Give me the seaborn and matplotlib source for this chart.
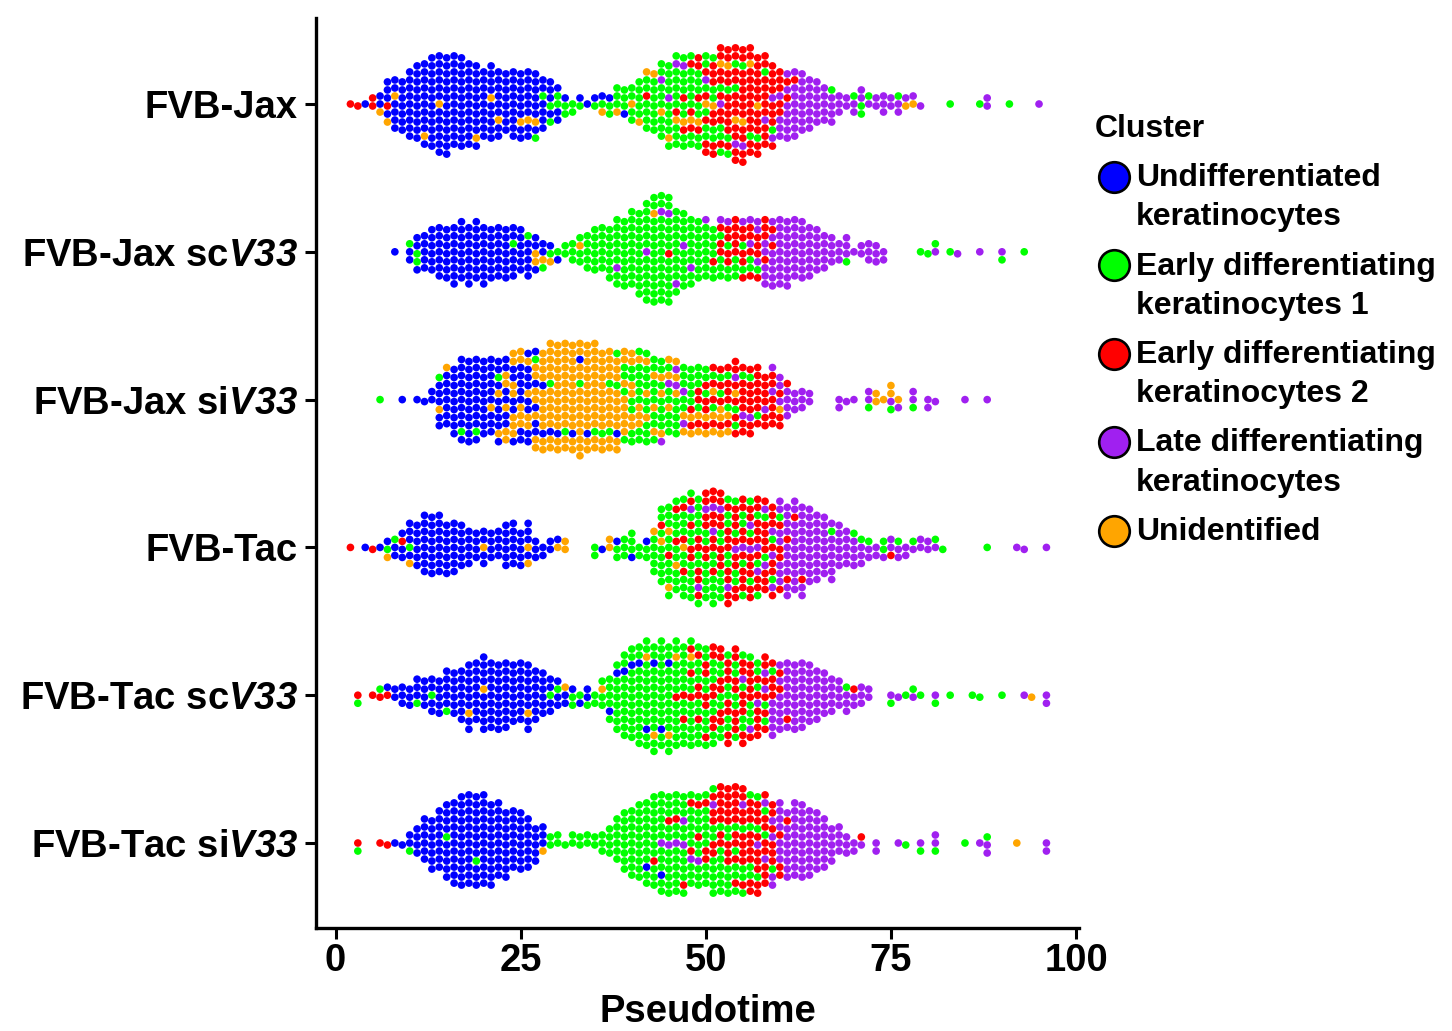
import matplotlib
matplotlib.use("Agg")
import matplotlib.pyplot as plt
from matplotlib.lines import Line2D
import pandas as pd
import seaborn as sns

# Samples (top to bottom) and clusters
SAMPLES = ["FVB-Jax", "FVB-Jax scV33", "FVB-Jax siV33",
           "FVB-Tac", "FVB-Tac scV33", "FVB-Tac siV33"]
SAMPLE_LABELS = ["FVB-Jax", r"FVB-Jax sc$V33$", r"FVB-Jax si$V33$",
                 "FVB-Tac", r"FVB-Tac sc$V33$", r"FVB-Tac si$V33$"]
CLUSTERS = ["Undifferentiated keratinocytes",
            "Early differentiating keratinocytes 1",
            "Early differentiating keratinocytes 2",
            "Late differentiating keratinocytes",
            "Unidentified"]
CLUSTER_LABELS = [("Undifferentiated", "keratinocytes"),
                  ("Early differentiating", "keratinocytes 1"),
                  ("Early differentiating", "keratinocytes 2"),
                  ("Late differentiating", "keratinocytes"),
                  ("Unidentified", None)]
COLORS = ["#0000FF", "#00FF00", "#FF0000", "#A020F0", "#FFA500"]
X_TICKS = [0, 25, 50, 75, 100]

# Cells per (rounded) pseudotime value, read off the swarms:
# (pseudotime, undiff, early 1, early 2, late, unidentified)
FVB_JAX = [
    (2, 0, 0, 1, 0, 0), (3, 0, 0, 1, 0, 0), (4, 1, 0, 0, 0, 0), (5, 0, 0, 2, 0, 0),
    (6, 2, 0, 0, 0, 1), (7, 4, 0, 1, 0, 1), (8, 6, 0, 0, 0, 1), (9, 7, 0, 0, 0, 0),
    (10, 9, 0, 0, 0, 0), (11, 10, 0, 0, 0, 0), (12, 10, 0, 0, 0, 1), (13, 12, 0, 0, 0, 0),
    (14, 12, 0, 0, 0, 1), (15, 13, 0, 0, 0, 0), (16, 12, 0, 0, 0, 0), (17, 12, 0, 0, 0, 0),
    (18, 11, 0, 0, 0, 0), (19, 10, 0, 0, 0, 1), (20, 9, 0, 0, 0, 0), (21, 9, 0, 0, 0, 1),
    (22, 8, 0, 0, 0, 1), (23, 8, 0, 0, 0, 0), (24, 9, 0, 0, 0, 0), (25, 8, 0, 0, 0, 1),
    (26, 8, 0, 0, 0, 1), (27, 7, 1, 0, 0, 1), (28, 6, 1, 0, 0, 0), (29, 4, 2, 0, 0, 0),
    (30, 3, 2, 0, 0, 0), (31, 1, 2, 0, 0, 0), (32, 0, 2, 0, 0, 0), (33, 1, 1, 0, 0, 0),
    (34, 1, 0, 0, 0, 0), (35, 1, 1, 0, 0, 0), (36, 1, 1, 0, 0, 1), (37, 1, 2, 0, 0, 0),
    (38, 0, 3, 0, 0, 1), (39, 1, 3, 0, 0, 0), (40, 0, 4, 0, 0, 1), (41, 0, 5, 0, 0, 1),
    (42, 0, 6, 1, 0, 1), (43, 0, 7, 0, 0, 1), (44, 0, 8, 0, 1, 1), (45, 0, 9, 0, 1, 1),
    (46, 0, 9, 1, 1, 1), (47, 0, 8, 2, 1, 1), (48, 0, 8, 3, 0, 1), (49, 0, 7, 4, 0, 1),
    (50, 0, 6, 5, 1, 1), (51, 0, 5, 7, 0, 1), (52, 0, 4, 8, 1, 1), (53, 0, 3, 10, 0, 1),
    (54, 0, 2, 11, 1, 1), (55, 0, 1, 12, 1, 1), (56, 0, 1, 12, 0, 1), (57, 0, 1, 11, 0, 1),
    (58, 0, 1, 10, 1, 0), (59, 0, 1, 8, 2, 0), (60, 0, 0, 5, 4, 0), (61, 0, 0, 2, 7, 0),
    (62, 0, 0, 1, 8, 0), (63, 0, 0, 0, 8, 0), (64, 0, 0, 0, 7, 0), (65, 0, 0, 0, 6, 0),
    (66, 0, 0, 0, 5, 0), (67, 0, 1, 0, 4, 0), (68, 0, 0, 0, 3, 0), (69, 0, 0, 0, 2, 0),
    (70, 0, 1, 0, 2, 0), (71, 0, 2, 0, 2, 0), (72, 0, 1, 0, 1, 0), (73, 0, 0, 0, 2, 0),
    (74, 0, 0, 0, 3, 0), (75, 0, 0, 0, 2, 0), (76, 0, 1, 0, 2, 0), (77, 0, 0, 0, 1, 1),
    (78, 0, 0, 0, 1, 1), (79, 0, 0, 0, 1, 0), (83, 0, 1, 0, 0, 0), (87, 0, 1, 0, 0, 0),
    (88, 0, 0, 0, 2, 0), (91, 0, 1, 0, 0, 0), (95, 0, 0, 0, 1, 0),
]
FVB_JAX_SC = [
    (8, 1, 0, 0, 0, 0), (10, 2, 1, 0, 0, 0), (11, 3, 2, 0, 0, 0), (12, 5, 0, 0, 0, 0),
    (13, 6, 0, 0, 0, 0), (14, 7, 0, 0, 0, 0), (15, 7, 0, 0, 0, 0), (16, 8, 0, 0, 0, 0),
    (17, 8, 0, 0, 0, 0), (18, 8, 0, 0, 0, 0), (19, 8, 0, 0, 0, 0), (20, 8, 0, 0, 0, 0),
    (21, 7, 0, 0, 0, 0), (22, 7, 0, 0, 0, 0), (23, 7, 0, 0, 0, 0), (24, 6, 1, 0, 0, 0),
    (25, 6, 0, 0, 0, 0), (26, 5, 1, 0, 0, 0), (27, 3, 0, 0, 0, 2), (28, 2, 1, 0, 0, 1),
    (29, 1, 1, 0, 0, 1), (30, 1, 1, 0, 0, 0), (31, 0, 2, 0, 0, 0), (32, 0, 3, 0, 0, 0),
    (33, 0, 3, 0, 0, 1), (34, 0, 5, 0, 0, 0), (35, 0, 6, 0, 0, 0), (36, 0, 6, 0, 0, 0),
    (37, 0, 7, 0, 0, 0), (38, 0, 8, 0, 1, 0), (39, 0, 9, 0, 0, 0), (40, 0, 10, 0, 0, 0),
    (41, 0, 11, 0, 0, 0), (42, 0, 12, 0, 1, 0), (43, 0, 13, 0, 0, 1), (44, 0, 13, 0, 1, 0),
    (45, 0, 12, 1, 1, 0), (46, 0, 10, 0, 1, 0), (47, 0, 9, 0, 1, 0), (48, 0, 8, 0, 1, 0),
    (49, 0, 8, 0, 0, 0), (50, 0, 7, 0, 1, 0), (51, 0, 6, 1, 0, 0), (52, 0, 4, 3, 1, 0),
    (53, 0, 3, 4, 1, 0), (54, 0, 3, 5, 0, 0), (55, 0, 2, 5, 1, 0), (56, 0, 2, 4, 2, 0),
    (57, 0, 1, 4, 3, 0), (58, 0, 0, 4, 5, 0), (59, 0, 0, 2, 7, 0), (60, 0, 0, 0, 9, 0),
    (61, 0, 0, 0, 9, 0), (62, 0, 0, 0, 8, 0), (63, 0, 0, 0, 8, 0), (64, 0, 0, 0, 7, 0),
    (65, 0, 0, 0, 6, 0), (66, 0, 0, 0, 5, 0), (67, 0, 0, 0, 4, 0), (68, 0, 0, 0, 3, 0),
    (69, 0, 1, 0, 3, 0), (70, 0, 0, 0, 1, 0), (71, 0, 0, 0, 2, 0), (72, 0, 0, 0, 3, 0),
    (73, 0, 0, 0, 3, 0), (74, 0, 0, 0, 2, 0), (79, 0, 1, 0, 0, 0), (80, 0, 1, 0, 0, 0),
    (81, 0, 1, 0, 1, 0), (83, 0, 1, 0, 0, 0), (84, 0, 0, 0, 1, 0), (87, 0, 0, 0, 1, 0),
    (90, 0, 1, 0, 1, 0), (93, 0, 1, 0, 0, 0),
]
FVB_JAX_SI = [
    (6, 0, 1, 0, 0, 0), (9, 1, 0, 0, 0, 0), (11, 1, 0, 0, 0, 0), (12, 1, 0, 0, 0, 0),
    (13, 2, 0, 0, 0, 0), (14, 5, 1, 0, 0, 1), (15, 7, 0, 0, 0, 1), (16, 9, 0, 0, 0, 0),
    (17, 10, 1, 0, 0, 0), (18, 11, 0, 0, 0, 0), (19, 10, 1, 0, 0, 0), (20, 10, 0, 0, 0, 0),
    (21, 9, 0, 0, 0, 1), (22, 8, 1, 0, 0, 2), (23, 6, 0, 0, 0, 5), (24, 5, 0, 0, 0, 7),
    (25, 7, 0, 0, 0, 5), (26, 8, 0, 0, 0, 4), (27, 5, 1, 0, 0, 7), (28, 2, 0, 0, 0, 11),
    (29, 1, 1, 0, 0, 12), (30, 1, 0, 0, 0, 13), (31, 0, 1, 0, 0, 13), (32, 1, 0, 0, 0, 13),
    (33, 1, 1, 0, 0, 13), (34, 1, 0, 0, 0, 13), (35, 0, 1, 0, 0, 13), (36, 0, 1, 0, 0, 12),
    (37, 0, 2, 0, 0, 11), (38, 1, 2, 0, 0, 10), (39, 0, 4, 0, 0, 8), (40, 0, 6, 0, 0, 6),
    (41, 0, 8, 0, 0, 4), (42, 0, 9, 0, 0, 3), (43, 0, 8, 0, 0, 3), (44, 0, 7, 0, 1, 3),
    (45, 0, 6, 0, 1, 3), (46, 0, 5, 0, 2, 3), (47, 0, 5, 0, 2, 2), (48, 0, 5, 2, 0, 2),
    (49, 0, 4, 3, 0, 2), (50, 0, 3, 4, 0, 2), (51, 0, 2, 4, 0, 3), (52, 0, 2, 4, 0, 3),
    (53, 0, 2, 5, 0, 2), (54, 0, 2, 6, 1, 1), (55, 0, 1, 7, 1, 0), (56, 0, 1, 7, 1, 0),
    (57, 0, 1, 7, 0, 0), (58, 0, 0, 6, 1, 0), (59, 0, 0, 6, 2, 0), (60, 0, 0, 3, 3, 1),
    (61, 0, 0, 1, 4, 0), (62, 0, 0, 0, 3, 0), (63, 0, 0, 0, 3, 0), (64, 0, 0, 0, 2, 0),
    (68, 0, 0, 0, 2, 0), (69, 0, 0, 0, 1, 0), (70, 0, 0, 0, 1, 0), (72, 0, 1, 0, 2, 0),
    (73, 0, 0, 0, 0, 2), (74, 0, 0, 0, 0, 1), (75, 0, 1, 0, 1, 2), (76, 0, 0, 0, 1, 1),
    (78, 0, 1, 0, 2, 0), (80, 0, 0, 0, 2, 0), (81, 0, 0, 0, 1, 0), (85, 0, 0, 0, 1, 0),
    (88, 0, 0, 0, 1, 0),
]
FVB_TAC = [
    (2, 0, 0, 1, 0, 0), (4, 1, 0, 0, 0, 0), (5, 0, 0, 1, 0, 0), (6, 1, 0, 0, 0, 0),
    (7, 1, 1, 0, 0, 1), (8, 2, 1, 0, 0, 0), (9, 3, 0, 1, 0, 0), (10, 4, 1, 0, 0, 1),
    (11, 6, 0, 0, 0, 0), (12, 8, 0, 0, 0, 0), (13, 8, 0, 0, 0, 0), (14, 8, 0, 0, 0, 0),
    (15, 7, 0, 0, 0, 0), (16, 7, 0, 0, 0, 0), (17, 6, 0, 0, 0, 0), (18, 5, 0, 0, 0, 0),
    (19, 4, 0, 0, 0, 0), (20, 4, 0, 0, 0, 1), (21, 4, 0, 0, 0, 0), (22, 4, 0, 0, 0, 0),
    (23, 6, 0, 0, 0, 0), (24, 6, 0, 0, 0, 0), (25, 5, 0, 0, 0, 0), (26, 4, 0, 0, 0, 2),
    (27, 3, 0, 0, 0, 0), (28, 2, 0, 0, 0, 0), (29, 2, 0, 0, 0, 0), (30, 1, 0, 0, 0, 1),
    (31, 0, 0, 0, 0, 2), (35, 0, 2, 0, 0, 0), (36, 1, 0, 0, 0, 0), (37, 0, 0, 0, 0, 2),
    (38, 1, 2, 0, 0, 0), (39, 0, 3, 0, 0, 0), (40, 1, 3, 0, 0, 0), (41, 0, 2, 0, 0, 0),
    (42, 1, 2, 0, 0, 0), (43, 0, 5, 0, 0, 1), (44, 0, 8, 1, 0, 1), (45, 0, 9, 1, 0, 2),
    (46, 0, 9, 2, 0, 1), (47, 0, 9, 3, 0, 1), (48, 0, 9, 4, 1, 0), (49, 0, 8, 5, 1, 0),
    (50, 0, 7, 6, 1, 0), (51, 0, 6, 7, 2, 0), (52, 0, 6, 7, 1, 0), (53, 0, 5, 8, 1, 0),
    (54, 0, 4, 8, 1, 0), (55, 0, 4, 8, 1, 0), (56, 0, 3, 8, 2, 0), (57, 0, 3, 8, 2, 0),
    (58, 0, 2, 8, 2, 0), (59, 0, 2, 7, 3, 0), (60, 0, 1, 4, 7, 0), (61, 0, 0, 2, 10, 0),
    (62, 0, 0, 1, 11, 0), (63, 0, 0, 1, 11, 0), (64, 0, 0, 0, 10, 0), (65, 0, 0, 0, 9, 0),
    (66, 0, 0, 0, 8, 0), (67, 0, 1, 0, 7, 0), (68, 0, 0, 0, 6, 0), (69, 0, 0, 0, 5, 0),
    (70, 0, 1, 0, 4, 0), (71, 0, 1, 0, 3, 0), (72, 0, 1, 0, 2, 0), (73, 0, 0, 0, 2, 0),
    (74, 0, 2, 0, 1, 0), (75, 0, 0, 1, 2, 0), (76, 0, 1, 0, 2, 0), (77, 0, 0, 0, 2, 0),
    (78, 0, 1, 0, 1, 0), (79, 0, 0, 0, 2, 0), (80, 0, 0, 0, 2, 0), (81, 0, 1, 0, 1, 0),
    (82, 0, 1, 0, 0, 0), (88, 0, 1, 0, 0, 0), (92, 0, 0, 0, 1, 0), (93, 0, 0, 0, 1, 0),
    (96, 0, 0, 0, 1, 0),
]
FVB_TAC_SC = [
    (3, 0, 1, 1, 0, 0), (5, 0, 0, 1, 0, 0), (6, 0, 1, 1, 0, 0), (7, 1, 0, 1, 0, 0),
    (8, 2, 0, 0, 0, 0), (9, 3, 0, 0, 0, 0), (10, 3, 0, 0, 0, 0), (11, 3, 1, 0, 0, 0),
    (12, 4, 0, 0, 0, 0), (13, 4, 1, 0, 0, 0), (14, 5, 0, 0, 0, 0), (15, 5, 1, 0, 0, 0),
    (16, 6, 0, 0, 0, 0), (17, 7, 0, 0, 0, 0), (18, 8, 0, 0, 0, 1), (19, 8, 0, 0, 0, 0),
    (20, 9, 0, 0, 0, 1), (21, 9, 0, 0, 0, 0), (22, 9, 0, 0, 0, 0), (23, 9, 0, 0, 0, 0),
    (24, 8, 0, 0, 0, 0), (25, 8, 0, 0, 0, 0), (26, 8, 0, 0, 0, 1), (27, 7, 0, 0, 0, 0),
    (28, 6, 0, 0, 0, 0), (29, 4, 1, 0, 0, 0), (30, 3, 1, 0, 0, 0), (31, 2, 0, 0, 0, 1),
    (32, 1, 2, 0, 0, 0), (33, 1, 1, 0, 0, 0), (34, 2, 1, 0, 0, 0), (35, 0, 2, 0, 0, 0),
    (36, 0, 3, 0, 0, 1), (37, 1, 5, 0, 0, 0), (38, 1, 8, 0, 0, 0), (39, 1, 10, 0, 0, 0),
    (40, 1, 11, 0, 0, 0), (41, 1, 12, 0, 0, 0), (42, 1, 12, 0, 0, 1), (43, 1, 12, 0, 0, 1),
    (44, 1, 13, 0, 0, 0), (45, 1, 12, 0, 0, 1), (46, 0, 12, 1, 0, 1), (47, 0, 11, 2, 0, 0),
    (48, 0, 10, 3, 0, 1), (49, 0, 9, 4, 0, 0), (50, 0, 8, 5, 0, 0), (51, 0, 7, 6, 0, 0),
    (52, 0, 6, 6, 0, 0), (53, 0, 5, 7, 0, 0), (54, 0, 5, 7, 0, 0), (55, 0, 4, 7, 1, 0),
    (56, 0, 4, 6, 1, 0), (57, 0, 3, 6, 1, 0), (58, 0, 2, 6, 2, 0), (59, 0, 1, 4, 5, 0),
    (60, 0, 0, 2, 7, 0), (61, 0, 0, 1, 8, 0), (62, 0, 0, 0, 9, 0), (63, 0, 0, 0, 9, 0),
    (64, 0, 0, 0, 8, 0), (65, 0, 0, 0, 7, 0), (66, 0, 0, 0, 6, 0), (67, 0, 0, 0, 5, 0),
    (68, 0, 0, 0, 4, 0), (69, 0, 1, 0, 3, 0), (70, 0, 0, 1, 2, 0), (71, 0, 0, 0, 3, 0),
    (72, 0, 0, 0, 2, 0), (75, 0, 1, 0, 1, 0), (76, 0, 0, 0, 1, 0), (77, 0, 1, 0, 0, 0),
    (78, 0, 1, 0, 1, 0), (79, 0, 1, 0, 0, 0), (81, 0, 1, 0, 1, 0), (83, 0, 1, 0, 0, 0),
    (86, 0, 1, 0, 0, 0), (87, 0, 1, 0, 0, 0), (90, 0, 1, 0, 0, 0), (93, 0, 0, 0, 1, 0),
    (94, 0, 0, 0, 0, 1), (96, 0, 0, 0, 2, 0),
]
FVB_TAC_SI = [
    (3, 0, 1, 1, 0, 0), (6, 0, 0, 1, 0, 0), (7, 0, 0, 1, 0, 0), (8, 1, 0, 0, 0, 0),
    (9, 1, 0, 0, 0, 0), (10, 2, 1, 0, 0, 0), (11, 4, 0, 0, 0, 0), (12, 6, 0, 0, 0, 0),
    (13, 7, 0, 0, 0, 0), (14, 8, 0, 0, 0, 0), (15, 9, 1, 0, 0, 0), (16, 11, 0, 0, 0, 0),
    (17, 12, 0, 0, 0, 0), (18, 12, 0, 0, 0, 0), (19, 11, 1, 0, 0, 0), (20, 12, 0, 0, 0, 0),
    (21, 11, 0, 0, 0, 0), (22, 10, 0, 0, 0, 0), (23, 9, 0, 0, 0, 0), (24, 8, 0, 0, 0, 0),
    (25, 8, 0, 0, 0, 0), (26, 7, 0, 0, 0, 0), (27, 5, 0, 0, 0, 0), (28, 3, 0, 0, 0, 1),
    (29, 0, 2, 0, 0, 0), (30, 0, 2, 0, 0, 0), (31, 0, 1, 0, 0, 0), (32, 0, 2, 0, 0, 0),
    (33, 0, 2, 0, 0, 0), (34, 0, 2, 0, 0, 0), (35, 0, 2, 0, 0, 0), (36, 0, 3, 0, 0, 0),
    (37, 0, 4, 0, 0, 0), (38, 0, 6, 0, 0, 0), (39, 0, 8, 0, 0, 0), (40, 0, 9, 0, 0, 0),
    (41, 0, 10, 0, 0, 0), (42, 1, 10, 0, 0, 0), (43, 0, 11, 1, 0, 0), (44, 1, 11, 0, 1, 0),
    (45, 0, 11, 1, 1, 0), (46, 0, 11, 1, 1, 0), (47, 0, 10, 1, 2, 0), (48, 0, 9, 2, 1, 0),
    (49, 0, 9, 2, 1, 0), (50, 0, 9, 3, 0, 0), (51, 0, 8, 5, 1, 0), (52, 0, 7, 7, 0, 0),
    (53, 0, 6, 8, 0, 0), (54, 0, 5, 9, 0, 0), (55, 0, 4, 9, 1, 0), (56, 0, 4, 9, 0, 0),
    (57, 0, 3, 9, 1, 0), (58, 0, 2, 8, 2, 0), (59, 0, 1, 6, 4, 0), (60, 0, 0, 3, 7, 0),
    (61, 0, 0, 1, 8, 0), (62, 0, 0, 0, 10, 0), (63, 0, 0, 0, 10, 0), (64, 0, 0, 0, 9, 0),
    (65, 0, 0, 0, 8, 0), (66, 0, 0, 0, 7, 0), (67, 0, 0, 0, 5, 0), (68, 0, 0, 0, 4, 0),
    (69, 0, 0, 0, 3, 0), (70, 0, 0, 0, 2, 0), (71, 0, 0, 1, 1, 0), (73, 0, 0, 0, 2, 0),
    (76, 0, 0, 0, 1, 0), (77, 0, 1, 0, 0, 0), (79, 0, 1, 0, 1, 0), (81, 0, 1, 0, 2, 0),
    (85, 0, 1, 0, 0, 0), (87, 0, 0, 0, 1, 0), (88, 0, 1, 0, 2, 0), (92, 0, 0, 0, 0, 1),
    (96, 0, 0, 0, 2, 0),
]
COUNTS = [FVB_JAX, FVB_JAX_SC, FVB_JAX_SI, FVB_TAC, FVB_TAC_SC, FVB_TAC_SI]

PHI = 0.6180339887


def expand(sample, table):
    # one row per cell. Inside a pseudotime column the cells are put in a
    # golden-ratio order so the clusters spread over the stack, and a
    # negligible tie-break keeps that order through the swarm's sort
    rows = []
    for pt, *counts in table:
        cells = [cl for cl, n in zip(CLUSTERS, counts) for _ in range(n)]
        order = sorted(range(len(cells)), key=lambda i: ((i + 1) * PHI) % 1.0)
        for j, i in enumerate(order):
            rows.append((sample, cells[i], pt + j * 1e-6))
    return rows


rows = []
for sample, table in zip(SAMPLES, COUNTS):
    rows += expand(sample, table)
df = pd.DataFrame(rows, columns=["sample", "cluster", "pseudotime"])

sns.set_theme(style="ticks")
plt.rcParams["font.family"] = ["Liberation Sans", "DejaVu Sans"]
plt.rcParams["font.weight"] = "bold"
plt.rcParams["mathtext.fontset"] = "custom"
plt.rcParams["mathtext.rm"] = "Liberation Sans:italic:bold"
plt.rcParams["mathtext.it"] = "Liberation Sans:italic:bold"

W, H = 1452, 1031
fig = plt.figure(figsize=(W / 100, H / 100), dpi=100)
ax = fig.add_axes([316 / W, 1 - 928 / H, (1079 - 316) / W, (928 - 18) / H])

sns.swarmplot(data=df, x="pseudotime", y="sample", hue="cluster",
              order=SAMPLES, hue_order=CLUSTERS, palette=COLORS,
              size=5.5, linewidth=0, legend=False, ax=ax)

ax.set_xlim(-2.65, 100.4)
ax.set_ylim(5.575, -0.582)
ax.set_xticks(X_TICKS)
ax.set_yticks(range(len(SAMPLES)), SAMPLE_LABELS)
ax.tick_params(axis="both", labelsize=27.5, width=2.2, length=8,
               color="black", labelcolor="black")
ax.tick_params(axis="y", pad=5)
ax.tick_params(axis="x", pad=3)
for s in ["top", "right"]:
    ax.spines[s].set_visible(False)
for s in ["left", "bottom"]:
    ax.spines[s].set_linewidth(2.4)
    ax.spines[s].set_color("black")
ax.set_ylabel("")
ax.set_xlabel("Pseudotime", fontsize=27.5, fontweight="bold", color="black")
ax.xaxis.set_label_coords(0.513, -0.073)

# legend drawn by hand so each marker sits on the first line of its label
fig.text(1095 / W, 1 - 137 / H, "Cluster", fontsize=23, fontweight="bold",
         ha="left", va="baseline", color="black")
for i, (col, (l1, l2)) in enumerate(zip(COLORS, CLUSTER_LABELS)):
    yb = 186 + 88.5 * i
    fig.add_artist(Line2D([1114 / W], [1 - (yb - 9.5) / H], transform=fig.transFigure,
                          marker="o", ls="", ms=22, mfc=col, mec="black", mew=1.9))
    fig.text(1136 / W, 1 - yb / H, l1, fontsize=23, fontweight="bold",
             ha="left", va="baseline", color="black")
    if l2:
        fig.text(1136 / W, 1 - (yb + 39) / H, l2, fontsize=23, fontweight="bold",
                 ha="left", va="baseline", color="black")

fig.savefig("out.png", dpi=100)
